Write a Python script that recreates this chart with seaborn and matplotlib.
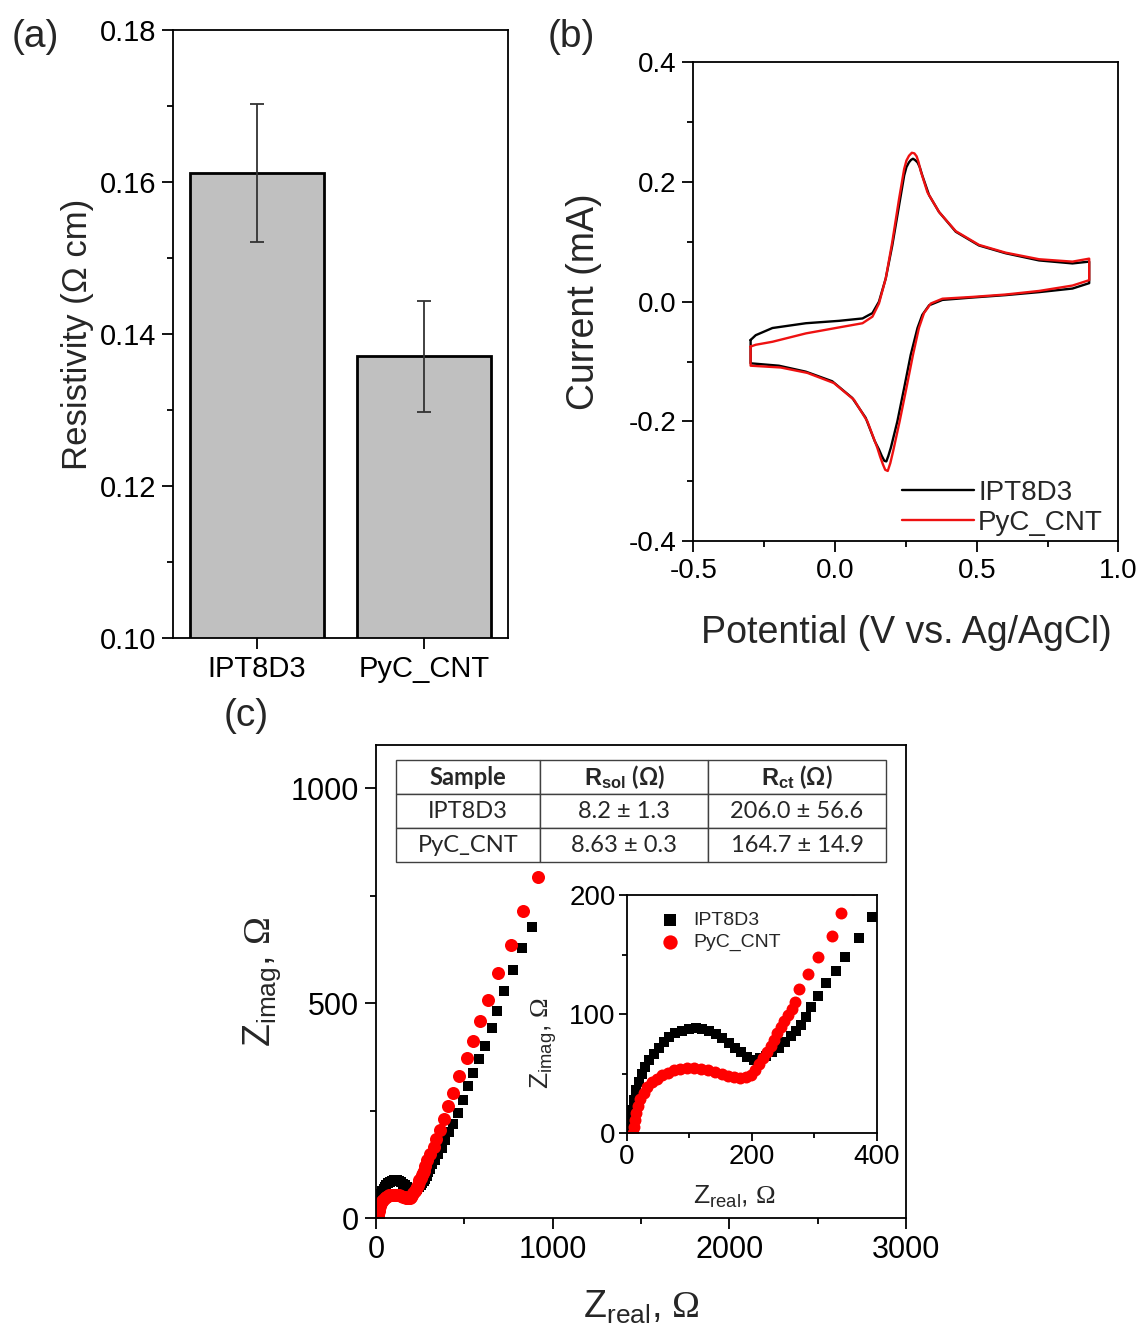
"""
Three-panel figure: resistivity bars, cyclic voltammograms and Nyquist plot.
"""

import numpy as np
import pandas as pd
import matplotlib
matplotlib.use("Agg")
import matplotlib.pyplot as plt
from matplotlib.ticker import MultipleLocator
import seaborn as sns

sns.set_style("ticks")
plt.rcParams["font.family"] = ["Liberation Sans", "DejaVu Sans"]
plt.rcParams["axes.unicode_minus"] = False
plt.rcParams["mathtext.fontset"] = "custom"
plt.rcParams["mathtext.rm"] = "Liberation Sans"
plt.rcParams["mathtext.it"] = "Liberation Sans:italic"
plt.rcParams["mathtext.bf"] = "Liberation Sans:bold"
plt.rcParams["mathtext.sf"] = "Liberation Serif"

# ---- (a) resistivity ----
samples = ["IPT8D3", "PyC_CNT"]
resistivity = [0.1612, 0.1371]
resistivity_err = [0.0091, 0.0073]

# ---- (b) cyclic voltammetry (closed loops) ----
cv_v_ipt = [-0.298, -0.280, -0.221, -0.103, 0.014, 0.097, 0.132, 0.155, 0.179, 0.202,
            0.226, 0.244, 0.252, 0.261, 0.268, 0.275, 0.282, 0.291, 0.299, 0.308,
            0.332, 0.367, 0.426, 0.508, 0.602, 0.720, 0.838, 0.897,
            0.897, 0.838, 0.720, 0.602, 0.485, 0.379, 0.332, 0.308, 0.291, 0.267,
            0.244, 0.220, 0.197, 0.188, 0.181, 0.174, 0.165, 0.155, 0.140, 0.108,
            0.061, -0.010, -0.103, -0.198, -0.298, -0.298]
cv_i_ipt = [-0.064, -0.056, -0.044, -0.036, -0.032, -0.028, -0.019, 0.000, 0.039, 0.094,
            0.161, 0.211, 0.225, 0.233, 0.237, 0.239, 0.237, 0.233, 0.225, 0.211,
            0.178, 0.150, 0.117, 0.094, 0.081, 0.069, 0.064, 0.067,
            0.031, 0.022, 0.016, 0.011, 0.007, 0.003, -0.006, -0.022, -0.044, -0.089,
            -0.144, -0.200, -0.244, -0.258, -0.267, -0.266, -0.258, -0.247, -0.233, -0.194,
            -0.161, -0.133, -0.117, -0.107, -0.103, -0.064]
cv_v_pyc = [-0.298, -0.280, -0.221, -0.103, 0.014, 0.097, 0.132, 0.155, 0.179, 0.202,
            0.226, 0.244, 0.252, 0.261, 0.271, 0.280, 0.288, 0.295, 0.302, 0.326,
            0.367, 0.426, 0.508, 0.602, 0.720, 0.838, 0.897,
            0.897, 0.838, 0.720, 0.602, 0.485, 0.379, 0.338, 0.314, 0.296, 0.275,
            0.252, 0.228, 0.205, 0.195, 0.186, 0.177, 0.169, 0.159, 0.149, 0.114,
            0.067, -0.004, -0.098, -0.192, -0.298, -0.298]
cv_i_pyc = [-0.075, -0.072, -0.067, -0.053, -0.043, -0.036, -0.025, -0.003, 0.039, 0.100,
            0.172, 0.222, 0.236, 0.244, 0.249, 0.248, 0.243, 0.233, 0.219, 0.183,
            0.150, 0.118, 0.095, 0.082, 0.071, 0.067, 0.072,
            0.036, 0.027, 0.018, 0.012, 0.008, 0.005, -0.003, -0.019, -0.044, -0.089,
            -0.144, -0.200, -0.250, -0.270, -0.283, -0.281, -0.272, -0.259, -0.244, -0.200,
            -0.164, -0.136, -0.119, -0.110, -0.107, -0.075]

# ---- (c) Nyquist data ----
z_real_ipt = [4, 6, 8, 11, 15, 19, 24, 30, 36, 43, 51, 59, 68, 78, 88, 99, 110, 121, 132,
              143, 153, 163, 173, 183, 193, 203, 213, 223, 233, 243, 253, 262, 270, 278,
              286, 294, 306, 319, 334, 349, 371, 392, 414, 438, 466, 494, 523, 551, 585,
              617, 655, 683, 727, 774, 825, 881]
z_imag_ipt = [4, 12, 20, 28, 36, 43, 50, 56, 62, 67, 72, 77, 81, 84, 86, 88, 88.5, 88, 86,
              83, 80, 76, 72, 68, 64, 62, 63, 65, 68, 72, 77, 82, 86, 91,
              98, 106, 115, 126, 136, 148, 164, 182, 200, 218, 244, 275, 306, 338, 369,
              400, 442, 481, 528, 578, 629, 677]
z_real_pyc = [10, 11, 13, 15, 18, 22, 27, 33, 40, 48, 57, 66, 76, 86, 97, 108, 119, 130,
              141, 152, 162, 172, 181, 190, 198, 205, 212, 218, 224, 230, 236, 241, 246,
              252, 258, 264, 269, 276, 290, 306, 328, 342, 362, 385, 409, 438, 472, 513,
              551, 589, 636, 693, 762, 834, 919]
z_imag_pyc = [0, 5, 11, 17, 23, 29, 34, 39, 43, 46, 49, 51, 53, 54, 54.5, 54.5, 54, 53,
              51.5, 50, 48.5, 47, 46.5, 47, 49, 53, 58, 63, 68, 73, 78, 84, 89,
              94, 99, 104, 110, 121, 134, 148, 166, 185, 205, 230, 260, 291, 330, 372,
              411, 458, 508, 570, 636, 714, 794]

table_cols = ["Sample", r"$\mathbf{R_{sol}}$ (Ω)", r"$\mathbf{R_{ct}}$ (Ω)"]
table_rows = [["IPT8D3", "8.2 ± 1.3", "206.0 ± 56.6"],
              ["PyC_CNT", "8.63 ± 0.3", "164.7 ± 14.9"]]


def style_axes(ax, lw=1.3, size=17, major=8, minor=4.5, pad=4):
    for s in ax.spines.values():
        s.set_visible(True)
        s.set_linewidth(lw)
        s.set_color("black")
    ax.tick_params(which="both", direction="out", width=lw, colors="black",
                   top=False, right=False, labelsize=size)
    ax.tick_params(which="major", length=major, pad=pad)
    ax.tick_params(which="minor", length=minor)


fig = plt.figure(figsize=(11.44, 13.40), dpi=100)

# (a) bar chart
ax_a = fig.add_axes([0.1512, 0.5239, 0.2928, 0.4537])
df_res = pd.DataFrame({"sample": samples, "resistivity": resistivity})
sns.barplot(data=df_res, x="sample", y="resistivity", color="#c0c0c0", saturation=1,
            edgecolor="black", linewidth=2, width=0.8, errorbar=None, ax=ax_a)
ax_a.errorbar(np.arange(len(samples)), resistivity, yerr=resistivity_err, fmt="none",
              ecolor="#333333", elinewidth=1.3, capsize=5, capthick=1.3)
ax_a.set_xlim(-0.5, 1.5)
ax_a.set_ylim(0.10, 0.18)
ax_a.yaxis.set_major_locator(MultipleLocator(0.02))
ax_a.yaxis.set_minor_locator(MultipleLocator(0.01))
style_axes(ax_a, size=21)
ax_a.set_xlabel("")
ax_a.set_ylabel("Resistivity (Ω cm)", fontsize=25)
ax_a.yaxis.set_label_coords(-0.235, 0.5)

# (b) cyclic voltammograms
ax_b = fig.add_axes([0.6061, 0.5963, 0.3715, 0.3571])
sns.lineplot(x=cv_v_ipt, y=cv_i_ipt, sort=False, estimator=None, color="black",
             linewidth=1.7, label="IPT8D3", ax=ax_b)
sns.lineplot(x=cv_v_pyc, y=cv_i_pyc, sort=False, estimator=None, color="#ee1111",
             linewidth=1.7, label="PyC_CNT", ax=ax_b)
ax_b.set_xlim(-0.5, 1.0)
ax_b.set_ylim(-0.4, 0.4)
ax_b.xaxis.set_major_locator(MultipleLocator(0.5))
ax_b.xaxis.set_minor_locator(MultipleLocator(0.25))
ax_b.yaxis.set_major_locator(MultipleLocator(0.2))
ax_b.yaxis.set_minor_locator(MultipleLocator(0.1))
style_axes(ax_b, size=20)
ax_b.set_xlabel("Potential (V vs. Ag/AgCl)", fontsize=27)
ax_b.set_ylabel("Current (mA)", fontsize=27)
ax_b.xaxis.set_label_coords(0.5, -0.155)
ax_b.yaxis.set_label_coords(-0.215, 0.5)
ax_b.legend(loc="lower right", bbox_to_anchor=(0.99, -0.013), frameon=False,
            fontsize=20, handlelength=2.6, handletextpad=0.15, labelspacing=0.15,
            borderaxespad=0)

# (c) Nyquist main
ax_c = fig.add_axes([0.3287, 0.0910, 0.4633, 0.3530])
sns.scatterplot(x=z_real_ipt, y=z_imag_ipt, marker="s", s=62, color="black",
                linewidth=0, ax=ax_c, legend=False)
sns.scatterplot(x=z_real_pyc, y=z_imag_pyc, marker="o", s=88, color="#ff0000",
                linewidth=0, ax=ax_c, legend=False)
ax_c.set_xlim(0, 3000)
ax_c.set_ylim(0, 1100)
ax_c.xaxis.set_major_locator(MultipleLocator(1000))
ax_c.xaxis.set_minor_locator(MultipleLocator(500))
ax_c.yaxis.set_major_locator(MultipleLocator(500))
ax_c.yaxis.set_minor_locator(MultipleLocator(250))
style_axes(ax_c, size=22)
ax_c.set_xlabel(r"Z$_{\mathrm{real}}$, $\mathsf{\Omega}$", fontsize=27)
ax_c.set_ylabel(r"Z$_{\mathrm{imag}}$, $\mathsf{\Omega}$", fontsize=27)
ax_c.xaxis.set_label_coords(0.5, -0.15)
ax_c.yaxis.set_label_coords(-0.175, 0.5)

tbl = ax_c.table(cellText=table_rows, colLabels=table_cols, cellLoc="center",
                 colWidths=[144, 168, 178], bbox=[0.0377, 0.7526, 0.9245, 0.2156])
tbl.auto_set_font_size(False)
tbl.set_fontsize(17)
for (r, c), cell in tbl.get_celld().items():
    cell.set_edgecolor("#404040")
    cell.set_linewidth(1.0)
    cell.set_facecolor("white")
    cell.get_text().set_fontfamily(["Lato", "DejaVu Sans"])
    if r == 0:
        cell.get_text().set_fontweight("bold")
tbl.set_zorder(5)

# (c) inset
ax_in = fig.add_axes([0.5478, 0.1542, 0.2188, 0.1778])
sns.scatterplot(x=z_real_ipt, y=z_imag_ipt, marker="s", s=52, color="black",
                linewidth=0, ax=ax_in, label="IPT8D3")
sns.scatterplot(x=z_real_pyc, y=z_imag_pyc, marker="o", s=74, color="#ff0000",
                linewidth=0, ax=ax_in, label="PyC_CNT")
ax_in.set_xlim(0, 400)
ax_in.set_ylim(0, 200)
ax_in.xaxis.set_major_locator(MultipleLocator(200))
ax_in.xaxis.set_minor_locator(MultipleLocator(100))
ax_in.yaxis.set_major_locator(MultipleLocator(100))
ax_in.yaxis.set_minor_locator(MultipleLocator(50))
style_axes(ax_in, size=20, major=6, minor=3.5, pad=2)
ax_in.set_xlabel(r"Z$_{\mathrm{real}}$, $\mathsf{\Omega}$", fontsize=19)
ax_in.set_ylabel(r"Z$_{\mathrm{imag}}$, $\mathsf{\Omega}$", fontsize=19)
ax_in.xaxis.set_label_coords(0.43, -0.21)
ax_in.yaxis.set_label_coords(-0.27, 0.38)
ax_in.legend(loc="upper left", bbox_to_anchor=(0.04, 0.99), frameon=False, fontsize=14,
             markerscale=1.2, handletextpad=0.2, labelspacing=0.25, borderaxespad=0.3)

# panel labels
fig.text(35 / 1144, 1 - 37 / 1340, "(a)", fontsize=28, ha="center", va="center")
fig.text(571 / 1144, 1 - 37 / 1340, "(b)", fontsize=28, ha="center", va="center")
fig.text(246 / 1144, 1 - 716 / 1340, "(c)", fontsize=28, ha="center", va="center")

fig.savefig("out.png", dpi=100)
plt.close(fig)
